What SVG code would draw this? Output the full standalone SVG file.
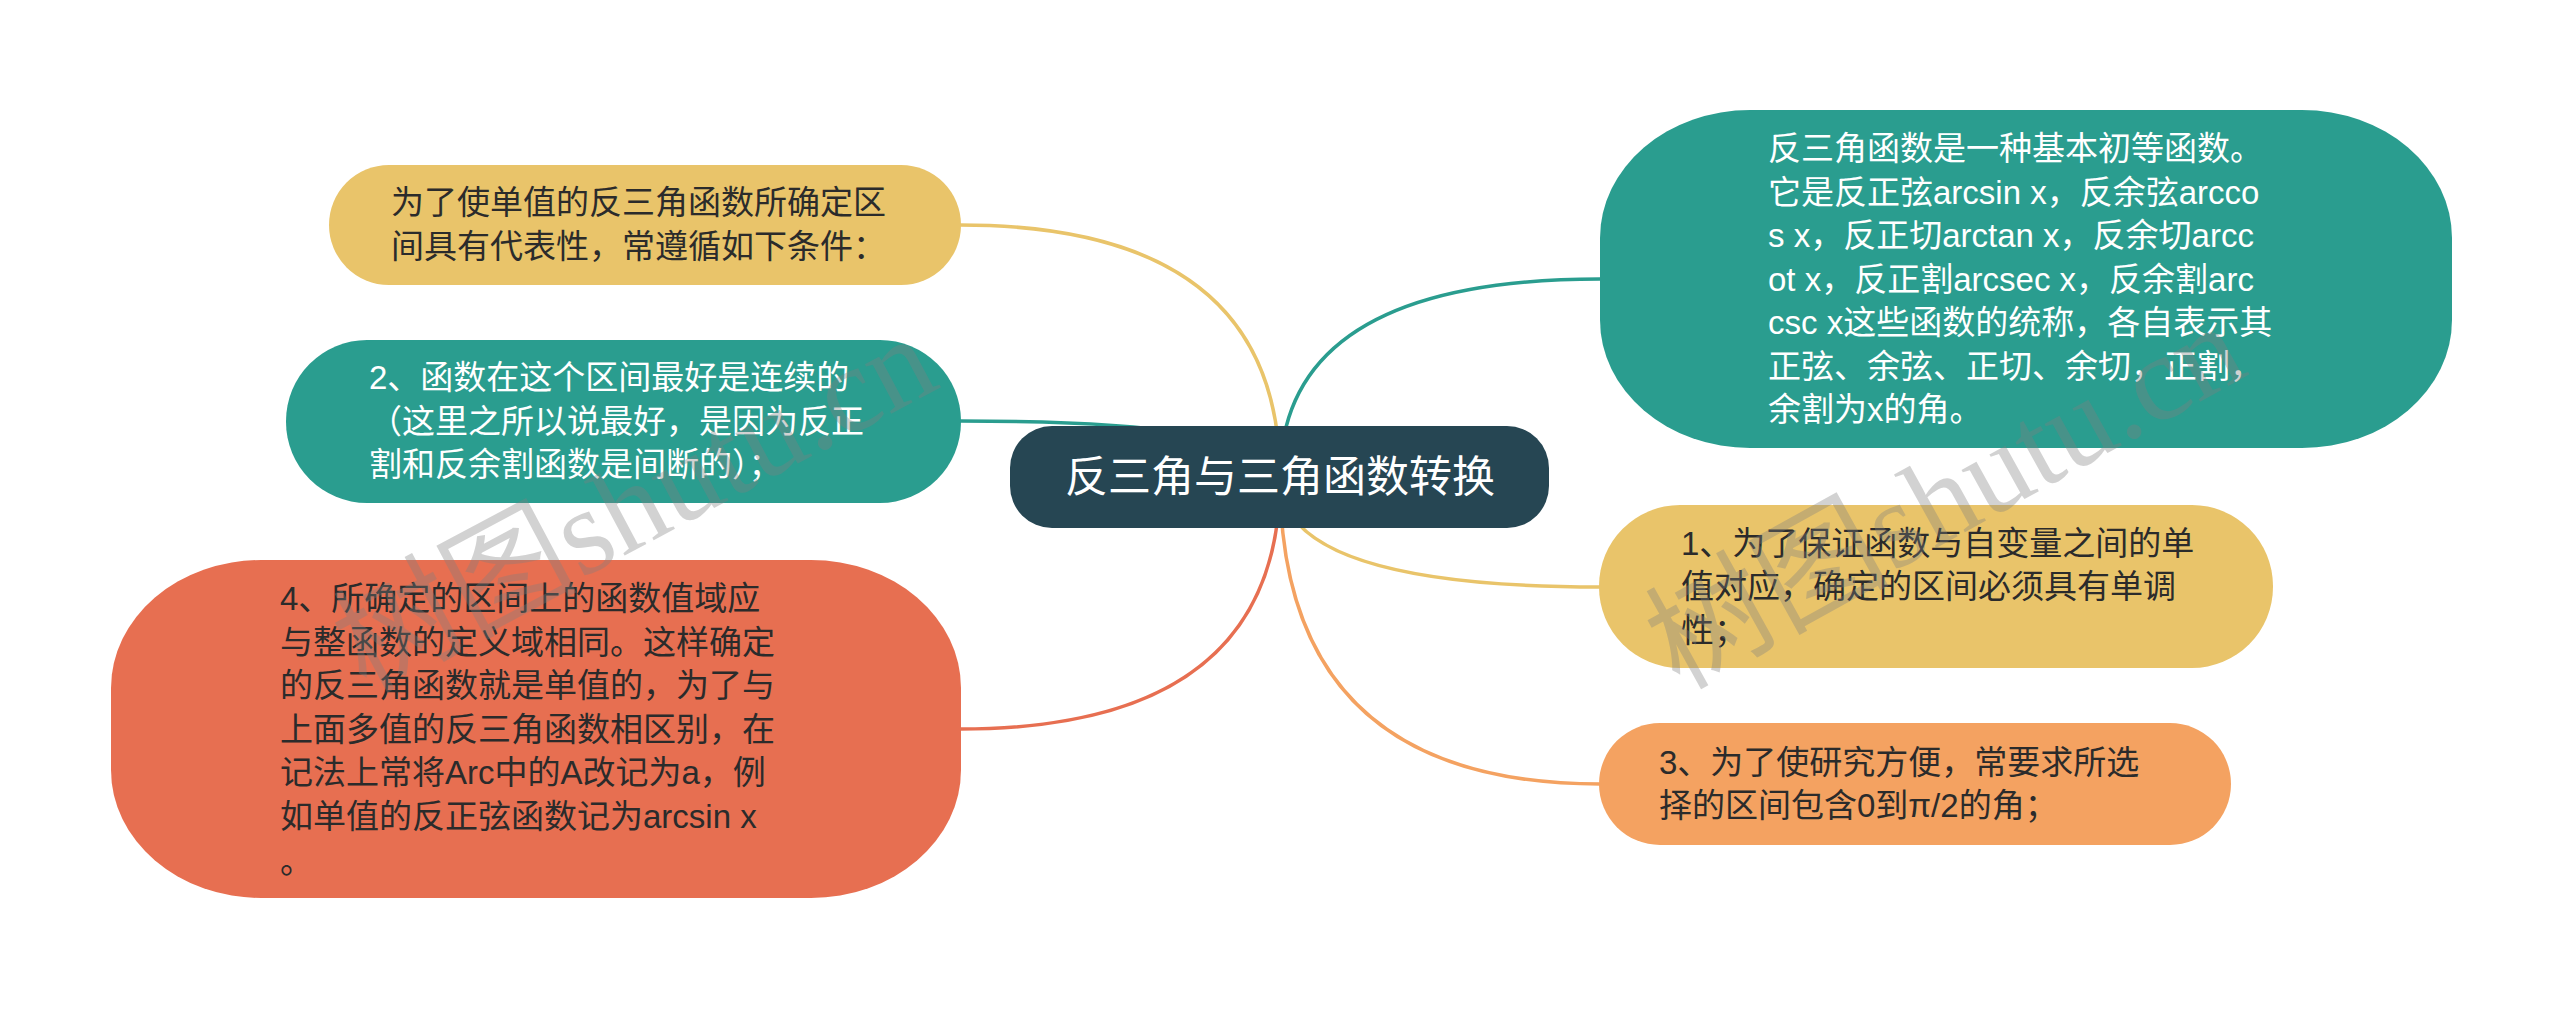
<svg xmlns="http://www.w3.org/2000/svg" width="2560" height="1009" viewBox="0 0 2560 1009">
<style>
.t{font-family:"Liberation Sans","Noto Sans CJK SC",sans-serif;font-size:33px}
.dark{fill:#2b2b2b}
.light{fill:#ffffff}
.c{fill:none;stroke-width:3.5;stroke-linecap:round}
.wm{font-family:"Liberation Serif","Noto Sans CJK SC",serif;font-size:122px;fill:#808080;opacity:0.35}
</style>
<rect width="2560" height="1009" fill="#ffffff"/>
<g id="connectors">
<path class="c" stroke="#E9C46A" d="M960,225 Q1280,225 1280,478"/>
<path class="c" stroke="#2A9D8F" d="M960,421 Q1280,421 1280,478"/>
<path class="c" stroke="#E76F51" d="M960,729 Q1280,729 1280,478"/>
<path class="c" stroke="#2A9D8F" d="M1280,478 Q1280,279 1600,279"/>
<path class="c" stroke="#E9C46A" d="M1280,478 Q1280,587 1600,587"/>
<path class="c" stroke="#F4A261" d="M1280,478 Q1280,784 1600,784"/>
</g>
<g id="root">
<rect x="1010" y="426" width="539" height="102" rx="42" fill="#264653"/>
<text x="1280" y="492" text-anchor="middle" style="font-family:'Liberation Sans','Noto Sans CJK SC',sans-serif;font-size:43px" fill="#ffffff">反三角与三角函数转换</text>
</g>
<g id="node-left-1">
<rect x="329" y="165" width="632" height="120" rx="60" fill="#E9C46A"/>
<text class="t dark"><tspan x="391" y="214">为了使单值的反三角函数所确定区</tspan><tspan x="391" y="257.5">间具有代表性，常遵循如下条件：</tspan></text>
</g>
<g id="node-left-2">
<rect x="286" y="340" width="675" height="163" rx="81" fill="#2A9D8F"/>
<text class="t light"><tspan x="369" y="389">2、函数在这个区间最好是连续的</tspan><tspan x="369" y="432.5">（这里之所以说最好，是因为反正</tspan><tspan x="369" y="476">割和反余割函数是间断的）；</tspan></text>
</g>
<g id="node-left-3">
<rect x="111" y="560" width="850" height="338" rx="150" ry="128" fill="#E76F51"/>
<text class="t dark"><tspan x="280" y="610">4、所确定的区间上的函数值域应</tspan><tspan x="280" y="653.5">与整函数的定义域相同。这样确定</tspan><tspan x="280" y="697">的反三角函数就是单值的，为了与</tspan><tspan x="280" y="740.5">上面多值的反三角函数相区别，在</tspan><tspan x="280" y="784">记法上常将Arc中的A改记为a，例</tspan><tspan x="280" y="827.5">如单值的反正弦函数记为arcsin x</tspan><tspan x="280" y="873">。</tspan></text>
</g>
<g id="node-right-1">
<rect x="1600" y="110" width="852" height="338" rx="150" ry="128" fill="#2A9D8F"/>
<text class="t light"><tspan x="1768" y="160">反三角函数是一种基本初等函数。</tspan><tspan x="1768" y="203.5">它是反正弦arcsin x，反余弦arcco</tspan><tspan x="1768" y="247">s x，反正切arctan x，反余切arcc</tspan><tspan x="1768" y="290.5">ot x，反正割arcsec x，反余割arc</tspan><tspan x="1768" y="334">csc x这些函数的统称，各自表示其</tspan><tspan x="1768" y="377.5">正弦、余弦、正切、余切，正割，</tspan><tspan x="1768" y="421">余割为x的角。</tspan></text>
</g>
<g id="node-right-2">
<rect x="1599" y="505" width="674" height="163" rx="81" fill="#E9C46A"/>
<text class="t dark"><tspan x="1681" y="554.5">1、为了保证函数与自变量之间的单</tspan><tspan x="1681" y="598">值对应，确定的区间必须具有单调</tspan><tspan x="1681" y="641.5">性；</tspan></text>
</g>
<g id="node-right-3">
<rect x="1599" y="723" width="632" height="122" rx="61" fill="#F4A261"/>
<text class="t dark"><tspan x="1659" y="774">3、为了使研究方便，常要求所选</tspan><tspan x="1659" y="817">择的区间包含0到π/2的角；</tspan></text>
</g>
<g id="watermark">
<text class="wm" text-anchor="middle" transform="translate(654,540) rotate(-28)">树图shutu.cn</text>
<text class="wm" text-anchor="middle" transform="translate(1965,532) rotate(-29)">树图shutu.cn</text>
</g>
</svg>
